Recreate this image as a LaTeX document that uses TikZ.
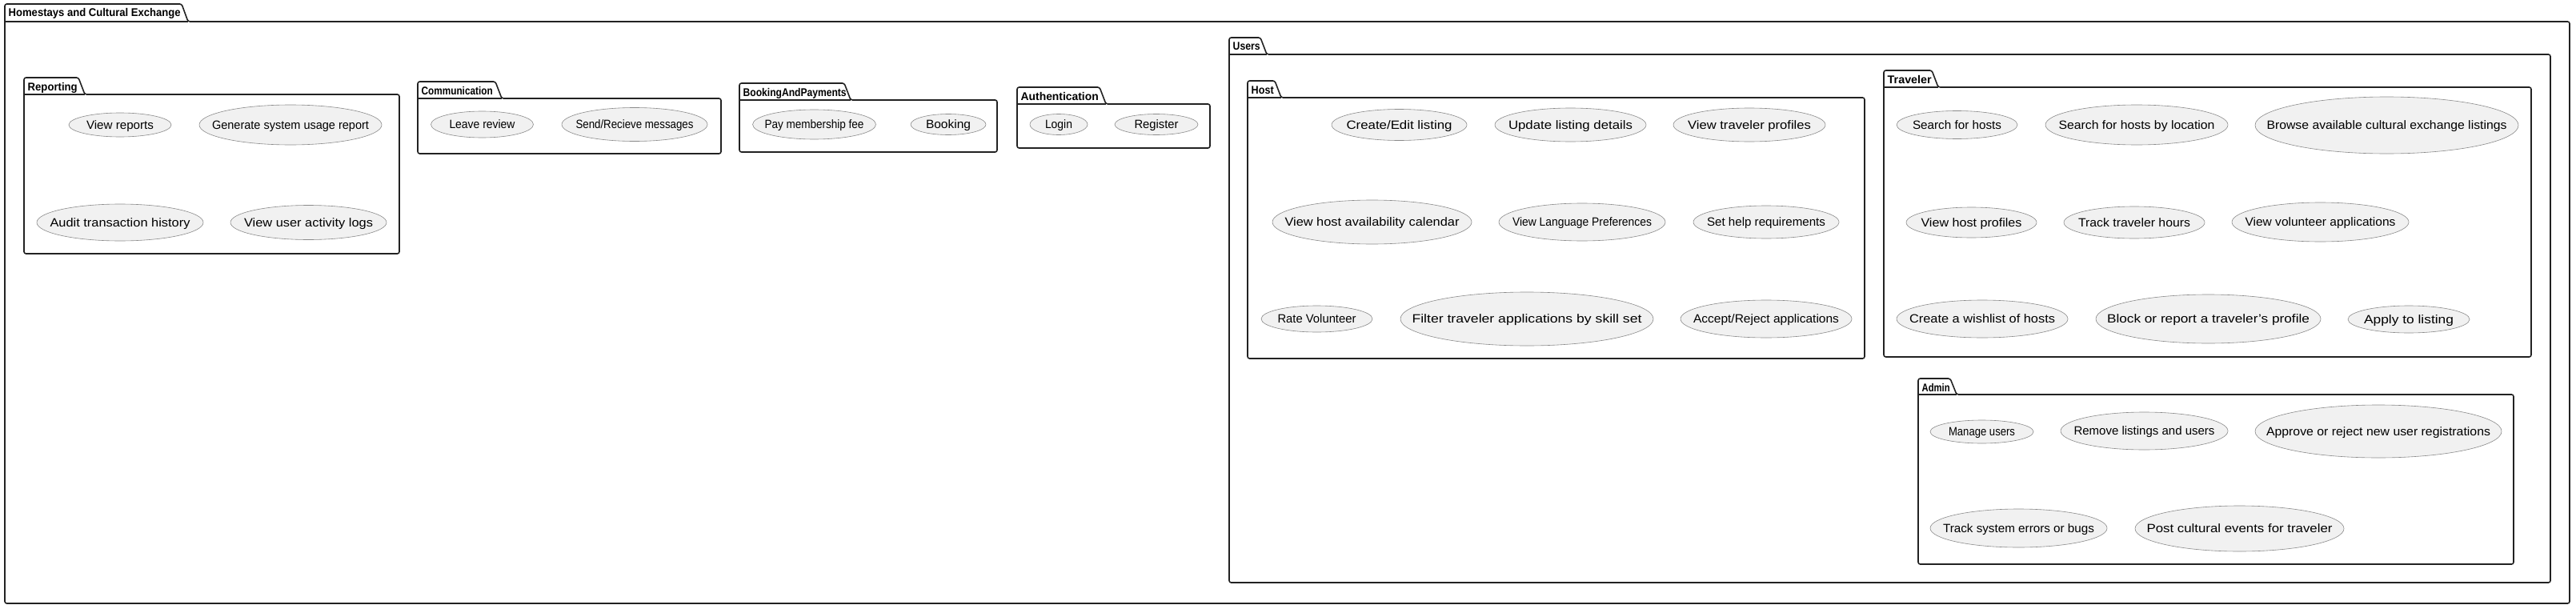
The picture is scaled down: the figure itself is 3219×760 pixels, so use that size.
\documentclass[tikz,border=0pt]{standalone}
\usepackage{fontspec}
\setmainfont{Liberation Sans}
\usepackage{graphicx}
\usetikzlibrary{shapes.geometric}
\definecolor{ucfill}{HTML}{F1F1F1}
\definecolor{ucline}{HTML}{8A8A8A}
\definecolor{pkgcol}{HTML}{222222}
\newsavebox\fitbox
\newcommand\fitw[2]{\sbox\fitbox{#2}\pgfmathsetmacro\fitf{#1/\the\wd\fitbox}\scalebox{\fitf}[1]{\usebox\fitbox}}
\tikzset{
  uc/.style={ellipse, draw=ucline, fill=ucfill, line width=0.6pt, inner sep=0pt,
    text height=12.35pt, text depth=1.65pt, font=\fontsize{15}{18}\selectfont},
  pkgline/.style={draw=pkgcol, line width=1.6pt, line join=round},
  pkgtitle/.style={inner sep=0pt, font=\bfseries\fontsize{14}{16}\selectfont}
}
% name, x, y, w, h, text width, text
\newcommand\usecase[7]{\node[uc, minimum width=#4, minimum height=#5] (#1) at (#2,#3) {\makebox[0pt]{\fitw{#6}{#7}}};}
% name, x1, ytab, ytop, x2, y2, tabR, title width, title
\newcommand\pkg[9]{%
  \draw[pkgline, rounded corners=2.5pt] (#2,#4) -- (#2,#3) -- (#7-8,#3) -- (#7,#4) -- (#5,#4) -- (#5,#6) -- (#2,#6) -- cycle;
  \draw[pkgline] (#2,#4) -- (#7,#4);
  \node[pkgtitle, anchor=base west] (#1) at (#2+4.5,#3+16) {\fitw{#8}{#9}};
}
\begin{document}
\begin{tikzpicture}[x=1pt,y=-1pt]
\useasboundingbox (0,0) rectangle (3219,760);
% packages
\pkg{outer}{6}{5}{27}{3211}{754}{235}{215}{Homestays and Cultural Exchange}
\pkg{reporting}{30}{97}{118}{499}{317}{106}{62}{Reporting}
\pkg{communication}{522}{102}{123}{901}{192}{627}{89}{Communication}
\pkg{booking}{924}{104}{125}{1246}{190}{1063}{129}{BookingAndPayments}
\pkg{auth}{1271}{109}{130}{1512}{185}{1382}{97}{Authentication}
\pkg{users}{1536}{47}{68}{3187}{728}{1583}{34}{Users}
\pkg{host}{1559}{101}{122}{2330}{448}{1601}{28}{Host}
\pkg{traveler}{2354}{88}{109}{3163}{446}{2422}{55}{Traveler}
\pkg{admin}{2397}{473}{493}{3141}{705}{2445}{35}{Admin}
% Reporting
\usecase{rep1}{150}{156}{128}{30}{84}{View reports}
\usecase{rep2}{363}{156}{228}{50}{196}{Generate system usage report}
\usecase{rep3}{150}{278}{208}{46}{175}{Audit transaction history}
\usecase{rep4}{385.5}{278}{195}{43}{161}{View user activity logs}
% Communication
\usecase{com1}{602.5}{155.5}{128}{33}{82}{Leave review}
\usecase{com2}{793}{155.5}{182}{42}{147}{Send/Recieve messages}
% Booking
\usecase{bk1}{1017.5}{155.5}{154}{37}{124}{Pay membership fee}
\usecase{bk2}{1185}{155.5}{94}{26}{56}{Booking}
% Authentication
\usecase{au1}{1323}{155.5}{72}{26}{34}{Login}
\usecase{au2}{1445}{155.5}{104}{26}{55}{Register}
% Host
\usecase{h1}{1748.5}{156}{169}{39}{132}{Create/Edit listing}
\usecase{h2}{1962.5}{156}{189}{42}{155}{Update listing details}
\usecase{h3}{2186}{156}{190}{42}{154}{View traveler profiles}
\usecase{h4}{1714.5}{277.5}{249}{55}{218}{View host availability calendar}
\usecase{h5}{1977}{277.5}{208}{47}{174}{View Language Preferences}
\usecase{h6}{2207}{277.5}{182}{41}{148}{Set help requirements}
\usecase{h7}{1645.5}{398.5}{139}{33}{98}{Rate Volunteer}
\usecase{h8}{1908}{398.5}{316}{67}{287}{Filter traveler applications by skill set}
\usecase{h9}{2207}{398.5}{214}{47}{182}{Accept/Reject applications}
% Traveler
\usecase{t1}{2445.5}{156}{151}{35}{111}{Search for hosts}
\usecase{t2}{2670}{156}{228}{50}{195}{Search for hosts by location}
\usecase{t3}{2982.5}{156.5}{329}{71}{300}{Browse available cultural exchange listings}
\usecase{t4}{2463.5}{278}{163}{38}{126}{View host profiles}
\usecase{t5}{2667}{278}{176}{40}{140}{Track traveler hours}
\usecase{t6}{2899.5}{277.5}{221}{49}{188}{View volunteer applications}
\usecase{t7}{2477}{398.5}{214}{47}{182}{Create a wishlist of hosts}
\usecase{t8}{2759.5}{398.5}{281}{61}{253}{Block or report a traveler's profile}
\usecase{t9}{3010}{399}{152}{34}{112}{Apply to listing}
% Admin
\usecase{a1}{2476.5}{539.5}{129}{29}{83}{Manage users}
\usecase{a2}{2679.5}{538.5}{209}{47}{176}{Remove listings and users}
\usecase{a3}{2972}{539}{308}{66}{280}{Approve or reject new user registrations}
\usecase{a4}{2522.5}{660}{221}{48}{189}{Track system errors or bugs}
\usecase{a5}{2798.5}{660.5}{261}{57}{232}{Post cultural events for traveler}
\end{tikzpicture}
\end{document}
